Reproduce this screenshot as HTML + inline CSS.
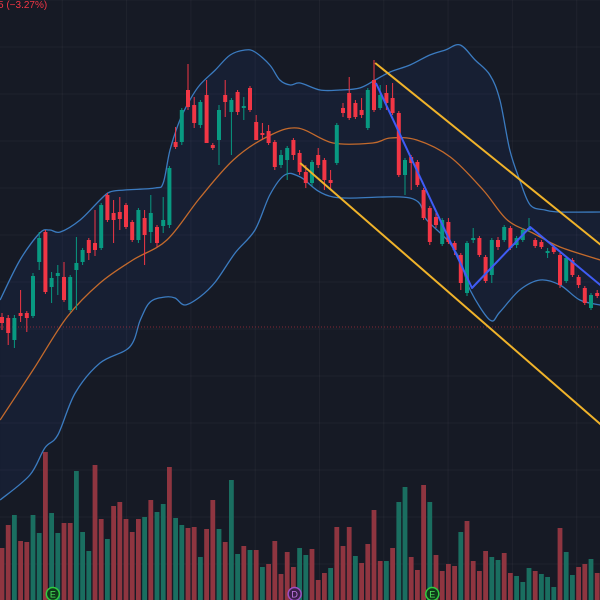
<!DOCTYPE html>
<html><head><meta charset="utf-8">
<style>
html,body{margin:0;padding:0;background:#161a25;width:600px;height:600px;overflow:hidden}
svg{display:block}
text{font-family:"Liberation Sans",sans-serif}
</style></head>
<body>
<svg id="chart" width="600" height="600" viewBox="0 0 600 600">
<rect x="0" y="0" width="600" height="600" fill="#161a25"/>
<g id="grid"></g>
<g id="band"></g>
<g id="vol"></g>
<g id="candles"></g>
<g id="draw"></g>
<g id="markers"></g>
<text x="-2" y="8" font-size="10" fill="#f23645">5 (−3.27%)</text>
</svg>
<script>
const opens=[68.3,68.2,66.0,68.7,68.7,68.4,73.8,76.8,71.3,72.4,72.3,69.0,73.0,73.8,76.0,75.7,75.2,80.5,78.7,78.8,79.5,77.8,76.0,78.2,76.8,77.3,77.4,77.5,85.8,85.8,91.0,89.5,87.5,90.5,85.5,86.0,90.5,88.8,90.8,89.2,91.2,87.8,86.7,86.9,85.8,83.5,84.0,86.0,84.7,82.8,81.7,84.5,84.0,82.0,83.7,89.2,90.7,89.7,89.0,87.2,92.0,89.2,90.7,90.2,88.7,82.5,84.3,83.8,81.0,79.2,78.3,75.6,77.8,75.7,74.5,70.7,76.0,76.2,74.3,72.5,76.0,76.0,77.2,75.5,76.0,77.0,76.0,75.8,74.7,75.3,74.5,71.9,74.0,72.3,71.2,69.2,70.7];
const highs=[68.7,68.5,68.5,71.0,68.9,72.7,76.8,77.0,72.8,73.5,73.8,72.5,76.3,75.2,76.2,79.0,79.7,80.7,80.0,80.3,79.7,78.0,79.2,79.0,80.5,77.5,80.3,83.4,87.3,89.2,93.6,90.3,90.0,92.0,85.7,89.5,92.0,90.2,91.0,90.3,91.4,88.5,87.7,87.5,86.0,85.0,85.4,86.2,85.0,83.5,84.0,85.2,84.2,83.0,87.7,89.7,92.3,90.0,90.2,91.2,94.0,91.5,91.5,91.7,88.9,84.2,84.5,84.0,81.2,79.4,78.7,78.2,78.2,75.9,74.7,75.9,77.2,76.4,74.5,76.2,76.3,77.5,77.4,76.4,77.2,78.2,76.2,76.0,75.2,75.5,74.7,74.4,74.2,72.5,71.4,70.7,71.0];
const lows=[67.0,65.5,65.2,67.8,66.8,68.2,73.0,70.6,69.7,70.5,69.8,68.8,69.0,73.5,74.0,74.4,75.0,77.8,75.7,77.0,77.1,75.8,75.7,73.5,75.7,75.3,76.7,77.2,85.1,85.5,89.0,87.2,87.2,85.7,85.0,83.5,88.3,84.5,88.5,88.0,88.8,86.0,86.0,85.5,83.0,83.2,82.0,84.0,82.5,81.2,81.4,83.2,81.0,81.0,83.5,88.3,88.0,88.1,88.2,87.0,88.8,89.0,89.0,88.5,82.3,80.5,81.0,81.3,78.0,75.5,77.2,75.4,75.6,74.5,71.0,70.4,75.7,74.3,71.7,71.7,75.0,75.8,75.0,75.2,75.8,76.8,75.2,75.1,74.2,74.6,71.2,71.7,72.3,71.2,69.5,69.0,70.2];
const closes=[67.7,66.7,68.2,68.4,68.2,72.4,76.2,70.8,72.2,72.7,70.0,72.3,73.7,75.0,74.7,75.0,79.5,78.0,78.0,78.1,77.3,76.0,79.0,76.5,78.7,75.7,78.0,83.2,85.3,89.0,89.3,87.7,89.8,85.7,85.2,89.0,89.8,90.0,88.8,89.4,89.0,86.0,86.5,85.7,83.3,84.5,85.2,84.5,82.8,81.7,83.8,83.5,82.0,81.7,87.5,88.7,88.2,88.3,88.5,91.0,89.0,90.5,89.7,88.7,82.5,84.0,83.7,81.5,78.2,75.8,77.5,78.0,75.8,75.0,71.7,75.7,76.2,74.5,71.9,76.0,75.3,77.3,75.2,76.2,77.0,77.2,75.4,75.3,74.9,74.8,71.5,74.2,72.5,71.5,69.7,70.5,70.4];
const volumes=[52,75,85,59,58,85,67,148,87,67,77,77,129,68,49,135,81,61,94,98,81,68,81,83,100,88,96,133,82,75,72,73,43,71,100,71,58,120,46,54,50,50,33,36,59,26,48,33,52,45,51,20,27,32,73,54,73,44,37,56,90,39,39,52,98,113,43,30,115,98,45,29,36,34,68,79,39,29,49,43,40,47,27,24,18,32,29,26,23,13,72,48,25,33,36,41,27];
const volumeDirs="ddudduuduudduuudduddddduduuduuddudduduudududdddduudddudddudddduduuddduddddudddduudduuuduuuduuddudddud";
const upperIdx=[-0.3,2.9,6.1,7.7,9.4,12.6,15.8,17.4,19.8,24.7,26.0,27.1,28.7,30.3,31.9,34.4,36.8,39.2,40.8,43.2,44.8,46.5,48.1,51.3,54.5,57.7,60.2,62.6,65.8,69.0,71.5,73.9,76.3,78.7,80.3,81.9,83.5,85.2,87.6,90.0,96.5];
const upperBand=[70.0,74.0,76.7,77.0,76.8,78.0,80.0,80.8,81.0,81.2,81.7,85.0,88.0,90.0,91.5,93.0,94.5,95.0,94.8,93.5,92.0,91.5,91.7,91.0,91.0,91.2,92.0,92.8,93.5,94.5,95.0,95.5,94.0,92.5,90.0,85.0,82.0,79.5,79.0,78.8,78.8];
const lowerIdx=[-0.3,4.5,6.9,9.0,11.8,15.8,20.6,22.3,23.9,26.3,27.9,29.5,31.9,34.4,37.6,40.8,43.2,45.6,48.1,53.4,65.8,68.5,71.8,73.9,75.5,78.7,80.3,83.5,86.8,90.0,93.2,96.5];
const lowerBand=[50.0,52.5,55.2,56.5,60.7,63.7,65.3,68.0,69.8,70.3,70.2,69.5,70.3,71.8,74.7,77.0,80.5,82.5,82.3,80.3,80.2,78.0,76.0,74.0,71.0,68.0,68.8,71.0,72.0,71.5,70.0,69.5];
const maIdx=[-0.3,5.0,10.5,15.8,21.1,26.6,31.9,37.3,42.7,47.6,53.4,59.8,62.6,66.9,72.3,77.6,81.5,85.6,90.0,96.5];
const maValues=[58.0,63.0,68.3,71.7,74.0,76.0,80.2,84.0,86.3,87.2,85.7,85.7,86.2,86.0,84.3,81.0,78.0,76.7,75.3,74.0];
const channelLowerIdx=[48.1,100];
const channelLower=[83.7,55.7];
const channelUpperIdx=[60.2,100];
const channelUpper=[93.7,73.8];
const zigzagIdx=[60.3,75.8,85.2,96.5,100];
const zigzagValues=[91.7,71.2,77.3,71.5,69.7];
const lastPrice=67.3;
const markerIdx=[8.2,47.2,69.4];
const markerLabels=["E","D","E"];

const NS="http://www.w3.org/2000/svg";
const xS=i=>2+i*6.2;
const yS=p=>(100-p)*10;
const vS=v=>600-v;
function mk(tag,attrs,parent){const e=document.createElementNS(NS,tag);for(const k in attrs)e.setAttribute(k,attrs[k]);parent.appendChild(e);return e;}
const G=id=>document.getElementById(id);
function smooth(P){let d='M'+P[0][0].toFixed(1)+','+P[0][1].toFixed(1);
for(let i=0;i<P.length-1;i++){const p0=P[Math.max(0,i-1)],p1=P[i],p2=P[i+1],p3=P[Math.min(P.length-1,i+2)];
const c1=[p1[0]+(p2[0]-p0[0])/6,p1[1]+(p2[1]-p0[1])/6],c2=[p2[0]-(p3[0]-p1[0])/6,p2[1]-(p3[1]-p1[1])/6];
d+=' C'+c1.map(v=>v.toFixed(1))+' '+c2.map(v=>v.toFixed(1))+' '+p2.map(v=>v.toFixed(1));}
return d;}
const P=(ix,vals)=>ix.map((i,k)=>[xS(i),yS(vals[k])]);

const grid=G('grid');
for(let k=0;k<=12;k++){const l=mk('line',{x1:0,x2:600,y1:k*47,y2:k*47,stroke:'rgba(255,255,255,0.04)','stroke-width':1},grid);

}
for(let k=0;k<10;k++){const x=-2+k*64.3;const l=mk('line',{x1:x,x2:x,y1:0,y2:600,stroke:'rgba(255,255,255,0.04)','stroke-width':1},grid);

}

const band=G('band');
const UP=P(upperIdx,upperBand), LO=P(lowerIdx,lowerBand);
const upD=smooth(UP), loRevD=smooth(LO.slice().reverse());
const fill=mk('path',{d:upD+' L'+loRevD.slice(1)+' Z',fill:'rgba(41,98,255,0.065)'},band);


const ul=mk('path',{d:upD,fill:'none',stroke:'#3b7bc0','stroke-width':1.3},band);


const ll=mk('path',{d:smooth(LO),fill:'none',stroke:'#3b7bc0','stroke-width':1.3},band);


const ma=mk('path',{d:smooth(P(maIdx,maValues)),fill:'none',stroke:'#c46a2c','stroke-width':1.3},band);


const lp=mk('line',{x1:0,x2:600,y1:yS(lastPrice),y2:yS(lastPrice),stroke:'rgba(242,54,69,0.5)','stroke-width':1,'stroke-dasharray':'1 2'},band);



const vol=G('vol');
volumes.forEach((v,i)=>{const d=volumeDirs[i]==='u';
const r=mk('rect',{x:xS(i)-2.4,y:vS(v),width:4.8,height:v,fill:d?'#1a6e60':'#8f3540'},vol);

});

const cg=G('candles');
opens.forEach((o,i)=>{const c=closes[i];const upc=c>=o;const col=upc?'#089981':'#f23645';const x=xS(i);
const w=mk('line',{x1:x,x2:x,y1:yS(highs[i]),y2:yS(lows[i]),stroke:col,'stroke-width':1},cg);


const t=yS(Math.max(o,c)),b=yS(Math.min(o,c));
const r=mk('rect',{x:x-2,y:t,width:4,height:Math.max(1,b-t),fill:col},cg);

});

const dg=G('draw');
const lin=(ix,v)=>ix.map((i,k)=>xS(i).toFixed(1)+','+yS(v[k]).toFixed(1)).join(' ');
const y1=mk('polyline',{points:lin(channelLowerIdx,channelLower),fill:'none',stroke:'#f0b32a','stroke-width':2},dg);


const y2=mk('polyline',{points:lin(channelUpperIdx,channelUpper),fill:'none',stroke:'#f0b32a','stroke-width':2},dg);


const zz=mk('polyline',{points:lin(zigzagIdx,zigzagValues),fill:'none',stroke:'#3f5cf5','stroke-width':2,'stroke-linejoin':'round'},dg);



const mg=G('markers');
markerIdx.forEach((m,k)=>{const x=xS(m);const isD=markerLabels[k]==='D';
const c=mk('circle',{cx:x,cy:594,r:6.5,fill:isD?'#3a1f4a':'#0f3a1a',stroke:isD?'#9c4fc4':'#2ecc40','stroke-width':1.5},mg);


const t=mk('text',{x:x,y:597.5,'font-size':9,fill:isD?'#c57be8':'#4be05a','text-anchor':'middle'},mg);
t.textContent=markerLabels[k];

});
</script>
</body></html>
